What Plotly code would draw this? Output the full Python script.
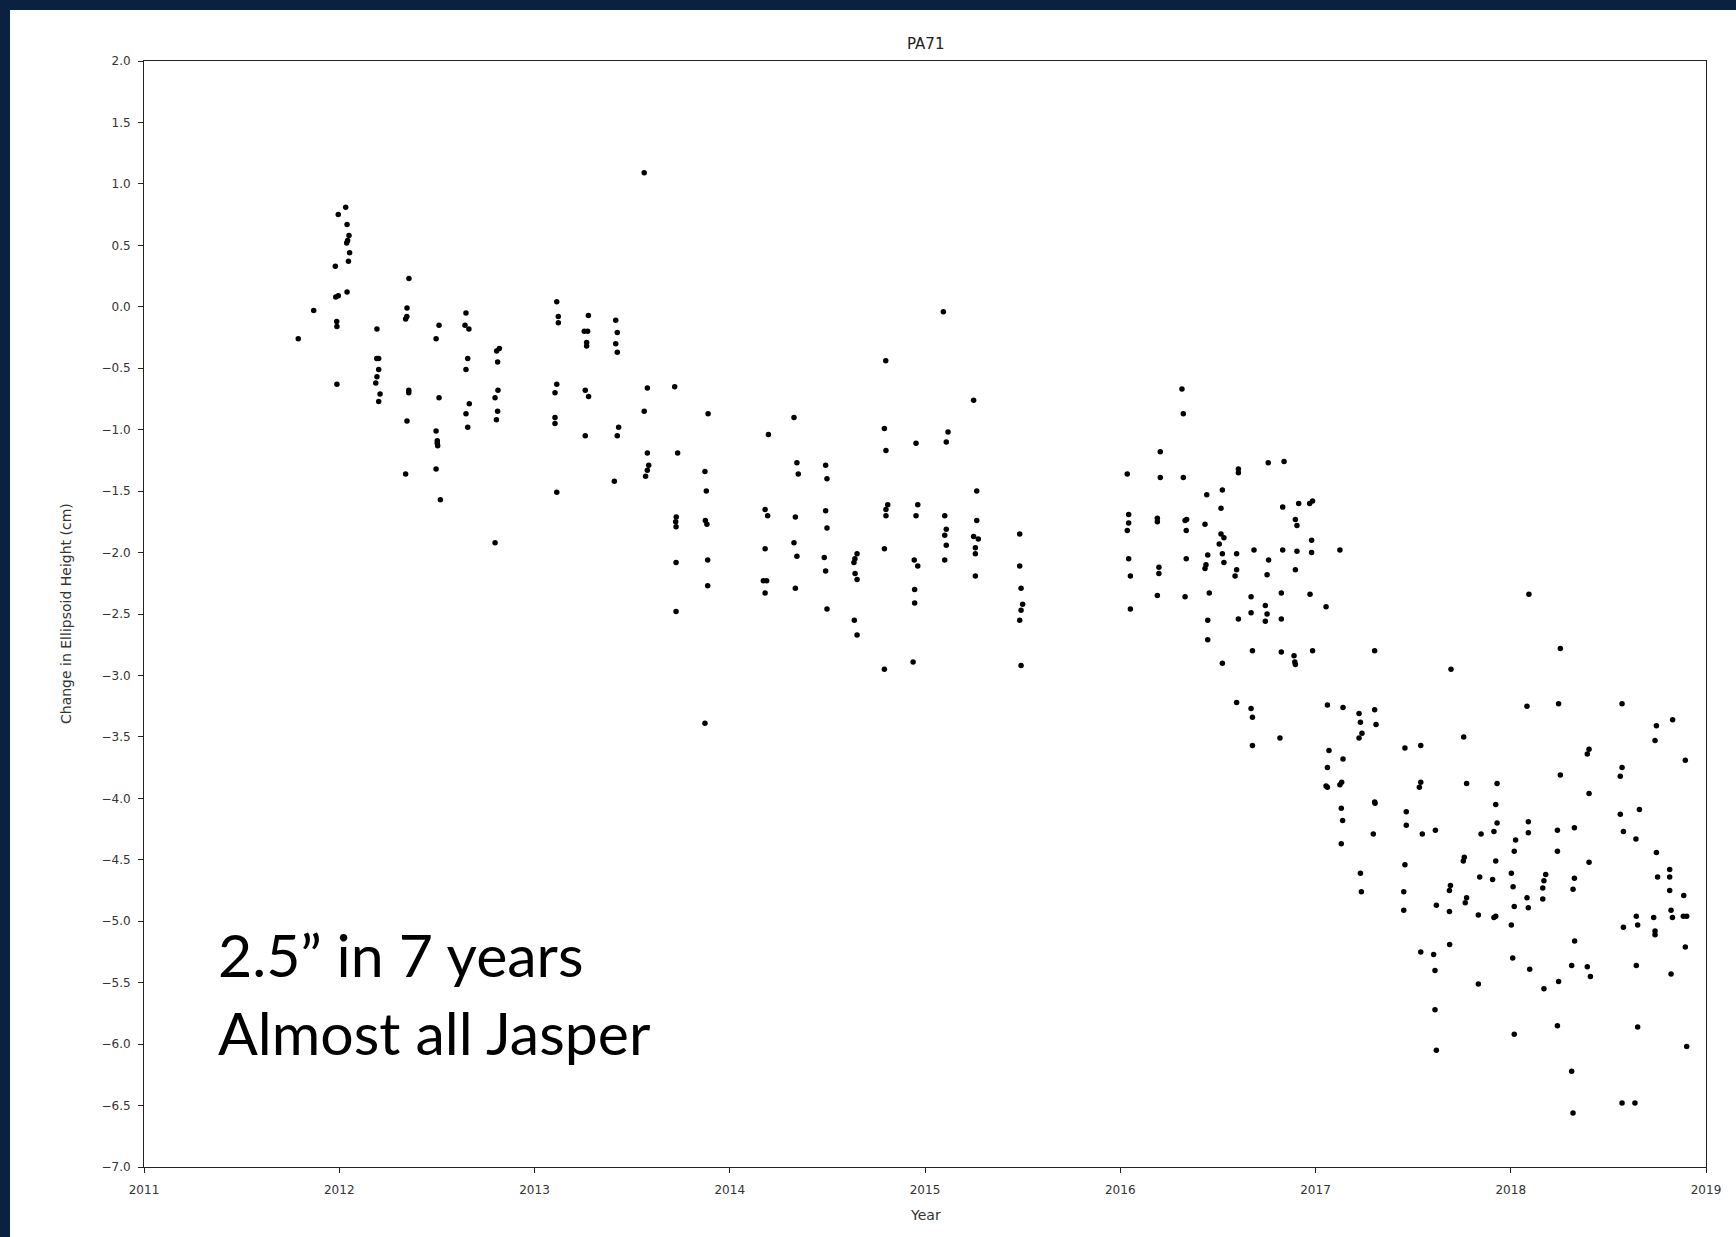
import plotly.graph_objects as go

# ---- data ----
year = [
    2011.790, 2011.869,
    2012.033, 2011.995, 2012.040, 2012.050, 2012.043, 2012.038, 2012.053, 2012.047, 2011.980, 2012.040, 2011.982, 2011.995, 2011.987, 2011.988, 2011.988,
    2012.193, 2012.192, 2012.202, 2012.202, 2012.193, 2012.187, 2012.209, 2012.202,
    2012.357, 2012.347, 2012.340, 2012.346, 2012.356, 2012.356, 2012.347, 2012.340,
    2012.511, 2012.496, 2012.511, 2012.496, 2012.502, 2012.502, 2012.504, 2012.496, 2012.518,
    2012.649, 2012.644, 2012.664, 2012.658, 2012.649, 2012.666, 2012.649, 2012.658,
    2012.820, 2012.806, 2012.811, 2012.813, 2012.798, 2012.811, 2012.805, 2012.798,
    2013.114, 2013.122, 2013.122, 2013.114, 2013.105, 2013.105, 2013.105, 2013.114,
    2013.276, 2013.255, 2013.272, 2013.267, 2013.267, 2013.260, 2013.277, 2013.260,
    2013.416, 2013.424, 2013.416, 2013.424, 2013.431, 2013.424, 2013.409,
    2013.562, 2013.578, 2013.562, 2013.578, 2013.585, 2013.578, 2013.569,
    2013.718, 2013.733, 2013.726, 2013.723, 2013.725, 2013.725, 2013.725,
    2013.889, 2013.873, 2013.880, 2013.875, 2013.883, 2013.887, 2013.887, 2013.873,
    2014.198, 2014.181, 2014.194, 2014.181, 2014.172, 2014.189, 2014.181,
    2014.329, 2014.344, 2014.351, 2014.336, 2014.329, 2014.344, 2014.336,
    2014.491, 2014.498, 2014.491, 2014.498, 2014.484, 2014.491, 2014.498,
    2014.652, 2014.641, 2014.636, 2014.642, 2014.652, 2014.638, 2014.652,
    2014.799, 2014.792, 2014.800, 2014.809, 2014.800, 2014.800, 2014.792, 2014.792,
    2014.954, 2014.963, 2014.954, 2014.945, 2014.963, 2014.947, 2014.947, 2014.939,
    2015.094, 2015.118, 2015.109, 2015.101, 2015.109, 2015.101, 2015.109, 2015.101,
    2015.249, 2015.265, 2015.265, 2015.249, 2015.273, 2015.258, 2015.258, 2015.258,
    2015.485, 2015.485, 2015.492, 2015.500, 2015.492, 2015.485, 2015.492,
    2016.036, 2016.043, 2016.043, 2016.036, 2016.043, 2016.052, 2016.052,
    2016.205, 2016.205, 2016.190, 2016.190, 2016.198, 2016.198, 2016.190,
    2016.316, 2016.323, 2016.323, 2016.332, 2016.340, 2016.338, 2016.338, 2016.332,
    2016.443, 2016.434, 2016.448, 2016.439, 2016.434, 2016.456, 2016.448, 2016.448,
    2016.523, 2016.516, 2016.516, 2016.531, 2016.507, 2016.523, 2016.531, 2016.523,
    2016.605, 2016.605, 2016.596, 2016.596, 2016.588, 2016.605, 2016.596,
    2016.685, 2016.670, 2016.670, 2016.677, 2016.670, 2016.677, 2016.677,
    2016.758, 2016.760, 2016.752, 2016.743, 2016.752, 2016.743,
    2016.839, 2016.832, 2016.832, 2016.825, 2016.825, 2016.825, 2016.818,
    2016.914, 2016.897, 2016.905, 2016.905, 2016.897, 2016.890, 2016.897, 2016.894,
    2016.970, 2016.985, 2016.980, 2016.980, 2016.972, 2016.985,
    2017.054, 2017.061, 2017.069, 2017.061, 2017.054, 2017.061,
    2017.125, 2017.141, 2017.141, 2017.125, 2017.134, 2017.132, 2017.139, 2017.132,
    2017.223, 2017.230, 2017.238, 2017.223, 2017.230, 2017.235,
    2017.303, 2017.303, 2017.310, 2017.303, 2017.305, 2017.296,
    2017.458, 2017.465, 2017.465, 2017.458, 2017.452, 2017.452,
    2017.539, 2017.532, 2017.539, 2017.547, 2017.539,
    2017.614, 2017.619, 2017.605, 2017.612, 2017.612, 2017.619,
    2017.694, 2017.691, 2017.686, 2017.686, 2017.687,
    2017.759, 2017.774, 2017.762, 2017.757, 2017.774, 2017.767,
    2017.848, 2017.841, 2017.834, 2017.834,
    2017.930, 2017.923, 2017.930, 2017.914, 2017.923, 2017.907, 2017.914, 2017.923,
    2018.025, 2018.018, 2018.003, 2018.012, 2018.018, 2018.003, 2018.010, 2018.018,
    2018.093, 2018.083, 2018.090, 2018.090, 2018.083, 2018.090, 2018.097,
    2018.179, 2018.170, 2018.164, 2018.164, 2018.170,
    2018.254, 2018.245, 2018.254, 2018.239, 2018.239, 2018.245, 2018.239,
    2018.326, 2018.326, 2018.319, 2018.327, 2018.312, 2018.312, 2018.319,
    2018.401, 2018.392, 2018.401, 2018.401, 2018.392, 2018.408,
    2018.570, 2018.570, 2018.561, 2018.561, 2018.577, 2018.577, 2018.570,
    2018.659, 2018.641, 2018.643, 2018.650, 2018.643, 2018.650, 2018.636,
    2018.746, 2018.739, 2018.746, 2018.752, 2018.732, 2018.739, 2018.739,
    2018.829, 2018.814, 2018.814, 2018.814, 2018.821, 2018.828, 2018.821,
    2018.894, 2018.886, 2018.884, 2018.901, 2018.894, 2018.901,
]

height_cm = [
    -0.26, -0.03,
    0.81, 0.75, 0.67, 0.58, 0.54, 0.52, 0.44, 0.37, 0.33, 0.12, 0.08, 0.09, -0.12, -0.16, -0.63,
    -0.18, -0.42, -0.42, -0.51, -0.57, -0.62, -0.71, -0.77,
    0.23, -0.01, -0.10, -0.08, -0.68, -0.70, -0.93, -1.36,
    -0.15, -0.26, -0.74, -1.01, -1.09, -1.11, -1.13, -1.32, -1.57,
    -0.05, -0.15, -0.18, -0.42, -0.51, -0.79, -0.87, -0.98,
    -0.34, -0.36, -0.45, -0.68, -0.74, -0.85, -0.92, -1.92,
    0.04, -0.08, -0.13, -0.63, -0.70, -0.90, -0.95, -1.51,
    -0.07, -0.20, -0.20, -0.29, -0.32, -0.68, -0.73, -1.05,
    -0.11, -0.21, -0.30, -0.37, -0.98, -1.05, -1.42,
    1.09, -0.66, -0.85, -1.19, -1.29, -1.33, -1.38,
    -0.65, -1.19, -1.71, -1.75, -1.79, -2.08, -2.48,
    -0.87, -1.34, -1.50, -1.74, -1.77, -2.06, -2.27, -3.39,
    -1.04, -1.65, -1.70, -1.97, -2.23, -2.23, -2.33,
    -0.90, -1.27, -1.36, -1.71, -1.92, -2.03, -2.29,
    -1.29, -1.40, -1.66, -1.80, -2.04, -2.15, -2.46,
    -2.01, -2.05, -2.08, -2.17, -2.22, -2.55, -2.67,
    -0.44, -0.99, -1.17, -1.61, -1.65, -1.70, -1.97, -2.95,
    -1.11, -1.61, -1.70, -2.06, -2.11, -2.30, -2.41, -2.89,
    -0.04, -1.02, -1.10, -1.70, -1.81, -1.86, -1.94, -2.06,
    -0.76, -1.50, -1.74, -1.87, -1.89, -1.96, -2.01, -2.19,
    -1.85, -2.11, -2.29, -2.42, -2.47, -2.55, -2.92,
    -1.36, -1.69, -1.76, -1.82, -2.05, -2.19, -2.46,
    -1.18, -1.39, -1.72, -1.75, -2.12, -2.17, -2.35,
    -0.67, -0.87, -1.39, -1.74, -1.73, -1.82, -2.05, -2.36,
    -1.53, -1.77, -2.02, -2.10, -2.13, -2.33, -2.55, -2.71,
    -1.49, -1.64, -1.85, -1.88, -1.93, -2.01, -2.08, -2.90,
    -1.32, -1.35, -2.01, -2.14, -2.19, -2.54, -3.22,
    -1.98, -2.36, -2.49, -2.80, -3.27, -3.34, -3.57,
    -1.27, -2.06, -2.18, -2.43, -2.50, -2.56,
    -1.26, -1.63, -1.98, -2.33, -2.54, -2.81, -3.51,
    -1.60, -1.73, -1.78, -1.99, -2.14, -2.84, -2.91, -2.89,
    -1.60, -1.58, -1.90, -2.00, -2.34, -2.80,
    -2.44, -3.24, -3.61, -3.75, -3.90, -3.91,
    -1.98, -3.26, -3.68, -3.89, -3.87, -4.08, -4.18, -4.37,
    -3.31, -3.38, -3.47, -3.51, -4.61, -4.76,
    -2.80, -3.28, -3.40, -4.03, -4.04, -4.29,
    -3.59, -4.11, -4.22, -4.54, -4.76, -4.91,
    -3.57, -3.91, -3.87, -4.29, -5.25,
    -4.26, -4.87, -5.27, -5.40, -5.72, -6.05,
    -2.95, -4.71, -4.75, -4.92, -5.19,
    -3.50, -3.88, -4.48, -4.51, -4.81, -4.85,
    -4.29, -4.64, -4.95, -5.51,
    -3.88, -4.05, -4.20, -4.27, -4.51, -4.66, -4.97, -4.96,
    -4.34, -4.43, -4.61, -4.72, -4.88, -5.03, -5.30, -5.92,
    -2.34, -3.25, -4.19, -4.28, -4.81, -4.89, -5.39,
    -4.62, -4.67, -4.73, -4.82, -5.55,
    -2.78, -3.23, -3.81, -4.26, -4.43, -5.49, -5.85,
    -4.24, -4.65, -4.74, -5.16, -5.36, -6.22, -6.56,
    -3.60, -3.64, -3.96, -4.52, -5.37, -5.45,
    -3.23, -3.75, -3.82, -4.13, -4.27, -5.05, -6.48,
    -4.09, -4.33, -4.96, -5.03, -5.36, -5.86, -6.48,
    -3.41, -3.53, -4.44, -4.64, -4.97, -5.08, -5.11,
    -3.36, -4.58, -4.64, -4.75, -4.91, -4.97, -5.43,
    -3.69, -4.79, -4.96, -4.96, -5.21, -6.02,
]

x_ticks = [2011, 2012, 2013, 2014, 2015, 2016, 2017, 2018, 2019]
y_ticks = [2.0 - 0.5 * i for i in range(19)]

title_text = "PA71"
x_label = "Year"
y_label = "Change in Ellipsoid Height (cm)"
note_lines = ["2.5\u201d in 7 years", "Almost all Jasper"]

# ---- figure ----
W, H = 1736, 1237
L, R, T, B = 144, 30, 61, 70
pw, ph = W - L - R, H - T - B

def px_x(px):
    return (px - L) / pw

def px_y(py):
    return (H - B - py) / ph

navy = "#0a2142"
tick_font = dict(family="DejaVu Sans", size=12, color="#333333")

fig = go.Figure()
fig.add_trace(go.Scatter(
    x=year, y=height_cm, mode="markers",
    marker=dict(color="black", size=5.5, line=dict(width=0)),
    showlegend=False, hoverinfo="x+y",
))

fig.update_layout(
    width=W, height=H,
    margin=dict(l=L, r=R, t=T, b=B, pad=0),
    paper_bgcolor="white", plot_bgcolor="white",
    showlegend=False,
    xaxis=dict(
        range=[2011, 2019], tickvals=x_ticks, ticktext=[str(v) for v in x_ticks],
        showgrid=False, zeroline=False, showline=True, mirror=True,
        linecolor="#222222", linewidth=1, ticks="outside", ticklen=5,
        tickcolor="#222222", tickfont=tick_font, ticklabelstandoff=7,
    ),
    yaxis=dict(
        range=[-7, 2], tickvals=y_ticks, tickformat=".1f",
        showgrid=False, zeroline=False, showline=True, mirror=True,
        linecolor="#222222", linewidth=1, ticks="outside", ticklen=5,
        tickcolor="#222222", tickfont=tick_font, ticklabelstandoff=5,
    ),
    shapes=[
        dict(type="rect", xref="paper", yref="paper", layer="below",
             x0=px_x(-20), x1=px_x(10), y0=px_y(H + 20), y1=px_y(-20),
             fillcolor=navy, line=dict(width=0)),
        dict(type="rect", xref="paper", yref="paper", layer="below",
             x0=px_x(-20), x1=px_x(W + 20), y0=px_y(10), y1=px_y(-20),
             fillcolor=navy, line=dict(width=0)),
    ],
    annotations=[
        dict(text=title_text, xref="paper", yref="paper", x=0.5, y=px_y(44),
             xanchor="center", yanchor="middle", showarrow=False,
             font=dict(family="DejaVu Sans", size=15, color="#222222")),
        dict(text=x_label, xref="paper", yref="paper", x=0.5, y=px_y(1215),
             xanchor="center", yanchor="middle", showarrow=False,
             font=dict(family="DejaVu Sans", size=14, color="#333333")),
        dict(text=y_label, xref="paper", yref="paper", x=px_x(66), y=px_y(614),
             xanchor="center", yanchor="middle", showarrow=False, textangle=-90,
             font=dict(family="DejaVu Sans", size=14, color="#333333")),
        dict(text=note_lines[0], xref="paper", yref="paper", x=px_x(216), y=px_y(954),
             xanchor="left", yanchor="middle", showarrow=False,
             font=dict(family="Lato", size=59, color="black")),
        dict(text=note_lines[1], xref="paper", yref="paper", x=px_x(216), y=px_y(1032),
             xanchor="left", yanchor="middle", showarrow=False,
             font=dict(family="Lato", size=59, color="black")),
    ],
)

fig.write_html("out.html")
